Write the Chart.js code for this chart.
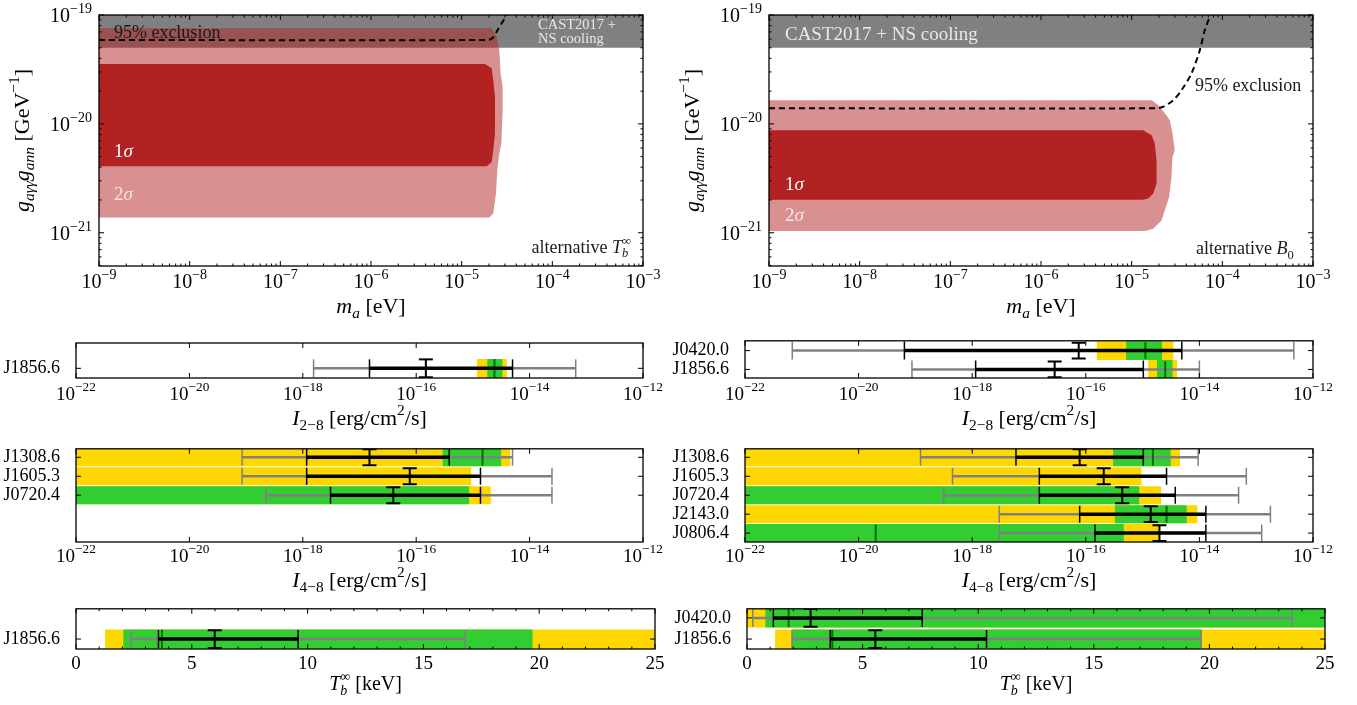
<!DOCTYPE html>
<html>
<head>
<meta charset="utf-8">
<title>Axion fit</title>
<script src="https://cdn.jsdelivr.net/npm/chart.js@4.4.1/dist/chart.umd.min.js"></script>
<style>
  body { margin: 0; background: #fff; }
  #wrap { position: relative; width: 1357px; height: 705px; overflow: hidden; }
  canvas { position: absolute; }
</style>
</head>
<body>
<div id="wrap">
  <canvas id="tbMass" width="670" height="322" style="left:0;top:0"></canvas>
  <canvas id="b0Mass" width="687" height="322" style="left:670px;top:0"></canvas>
  <canvas id="tbI28" width="670" height="108" style="left:0;top:322px"></canvas>
  <canvas id="b0I28" width="687" height="108" style="left:670px;top:322px"></canvas>
  <canvas id="tbI48" width="670" height="172" style="left:0;top:430px"></canvas>
  <canvas id="b0I48" width="687" height="172" style="left:670px;top:430px"></canvas>
  <canvas id="tbTemp" width="670" height="115" style="left:0;top:590px"></canvas>
  <canvas id="b0Temp" width="687" height="115" style="left:670px;top:590px"></canvas>
</div>
<script>
// axis ticks
const massTicks = [1e-9, 1e-8, 1e-7, 1e-6, 1e-5, 1e-4, 1e-3];
const couplingTicks = [1e-21, 1e-20, 1e-19];
const fluxTicks = [1e-22, 1e-20, 1e-18, 1e-16, 1e-14, 1e-12];
const tempTicks = [0, 5, 10, 15, 20, 25];

// top panels, [m_a (eV), g_agg*g_ann (GeV^-1)]
const castBand = [[1e-9, 5e-20], [1e-3, 5e-20], [1e-3, 1e-19], [1e-9, 1e-19]];

const tbSigma2 = [[1e-9, 7.55e-20], [2.14e-5, 7.55e-20], [2.43e-5, 6.31e-20], [2.60e-5, 4.76e-20], [2.69e-5, 2.91e-20],
  [2.83e-5, 2.19e-20], [2.83e-5, 1.34e-20], [2.74e-5, 6.6e-21], [2.60e-5, 5.35e-21], [2.47e-5, 3.75e-21],
  [2.39e-5, 2.29e-21], [2.23e-5, 1.5e-21], [2.02e-5, 1.38e-21], [1e-9, 1.38e-21]];
const tbSigma1 = [[1e-9, 3.54e-20], [1.81e-5, 3.54e-20], [2.14e-5, 3.24e-20], [2.23e-5, 2.52e-20], [2.33e-5, 1.77e-20],
  [2.33e-5, 8.17e-21], [2.23e-5, 5.73e-21], [2.14e-5, 4.47e-21], [1.89e-5, 4.08e-21], [1e-9, 4.08e-21]];
const tbExcl = [[1e-9, 5.9e-20], [1.97e-5, 5.9e-20], [2.23e-5, 6.24e-20], [2.43e-5, 7.03e-20], [3.14e-5, 1e-19]];

const b0Sigma2 = [[1e-9, 1.65e-20], [1.66e-5, 1.65e-20], [1.96e-5, 1.49e-20], [2.32e-5, 1.25e-20], [2.64e-5, 1.08e-20],
  [2.82e-5, 8.17e-21], [2.99e-5, 5.73e-21], [2.82e-5, 4.97e-21], [2.75e-5, 3.25e-21], [2.59e-5, 2.13e-21],
  [2.32e-5, 1.61e-21], [2.14e-5, 1.30e-21], [1.73e-5, 1.09e-21], [1.40e-5, 1.04e-21], [1e-9, 1.04e-21]];
const b0Sigma1 = [[1e-9, 8.75e-21], [1.34e-5, 8.75e-21], [1.66e-5, 7.87e-21], [1.80e-5, 6.6e-21], [1.88e-5, 4.63e-21],
  [1.88e-5, 2.83e-21], [1.73e-5, 2.29e-21], [1.52e-5, 2.06e-21], [1.34e-5, 2.01e-21], [1e-9, 2.01e-21]];
const b0Excl = [[1e-9, 1.39e-20], [1.88e-5, 1.39e-20], [2.2e-5, 1.43e-20], [2.88e-5, 1.65e-20], [3.55e-5, 2.04e-20],
  [4.57e-5, 2.91e-20], [5.65e-5, 4.76e-20], [6.41e-5, 7.28e-20], [7.41e-5, 1e-19]];

// I_2-8 panels
const i28TbNames = ['J1856.6'];
const i28TbSlots = [1];
const i28TbYellow = [[1.2e-15, 3.9e-15]];
const i28TbGreen = [[1.82e-15, 3.27e-15]];
const i28TbBest = [2.4e-15];
const i28TbGray = [[1.55e-18, 6.5e-14]];
const i28TbBlack = [[1.5e-17, 5.0e-15]];
const i28TbMeas = [1.48e-16];

const i28B0Names = ['J0420.0', 'J1856.6'];
const i28B0Slots = [0, 1];
const i28B0Yellow = [[1.58e-16, 3.44e-15], [1.27e-15, 3.98e-15]];
const i28B0Green = [[5.2e-16, 2.17e-15], [1.82e-15, 3.32e-15]];
const i28B0Best = [1.12e-15, 2.5e-15];
const i28B0Gray = [[6.8e-22, 4.6e-13], [8.7e-20, 1.0e-14]];
const i28B0Black = [[6.4e-20, 4.9e-15], [1.15e-18, 1.03e-15]];
const i28B0Meas = [7.5e-17, 2.83e-17];

// I_4-8 panels
const i48TbNames = ['J1308.6', 'J1605.3', 'J0720.4'];
const i48TbSlots = [0, 1, 2];
const i48TbYellow = [[1e-22, 4.5e-15], [1e-22, 9.2e-16], [1e-22, 2.04e-15]];
const i48TbGreen = [[2.98e-16, 3.1e-15], null, [1e-22, 8.45e-16]];
const i48TbBest = [1.48e-15, null, null];
const i48TbGray = [[8.5e-20, 5.0e-15], [8.5e-20, 2.48e-14], [2.23e-19, 2.48e-14]];
const i48TbBlack = [[1.17e-18, 3.83e-16], [1.17e-18, 1.36e-15], [3.08e-18, 1.36e-15]];
const i48TbMeas = [1.5e-17, 7.7e-17, 3.94e-17];

const i48B0Names = ['J1308.6', 'J1605.3', 'J0720.4', 'J2143.0', 'J0806.4'];
const i48B0Slots = [0, 1, 2, 3, 4];
const i48B0Yellow = [[1e-22, 4.5e-15], [1e-22, 9.4e-16], [1e-22, 2.09e-15], [1e-22, 9.1e-15], [1e-22, 1.98e-15]];
const i48B0Green = [[3.06e-16, 3.09e-15], null, [1e-22, 8.6e-16], [3.3e-16, 5.9e-15], [1e-22, 4.6e-16]];
const i48B0Best = [1.52e-15, null, null, 2.64e-15, 2.0e-20];
const i48B0Gray = [[1.23e-19, 9.5e-15], [4.5e-19, 6.7e-14], [3.15e-19, 4.9e-14], [3.0e-18, 1.78e-13], [3.0e-18, 1.25e-13]];
const i48B0Black = [[5.9e-18, 1.03e-15], [1.52e-17, 2.64e-15], [1.52e-17, 3.76e-15], [7.8e-17, 1.3e-14], [1.45e-16, 1.3e-14]];
const i48B0Meas = [7.8e-17, 2.07e-16, 4.38e-16, 1.39e-15, 1.98e-15];

// T_b panels (keV)
const tempTbNames = ['J1856.6'];
const tempTbSlots = [1];
const tempTbYellow = [[1.27, 25]];
const tempTbGreen = [[2.06, 19.7]];
const tempTbBest = [3.71];
const tempTbGray = [[2.38, 16.8]];
const tempTbBlack = [[3.56, 9.59]];
const tempTbMeas = [5.99];

const tempB0Names = ['J0420.0', 'J1856.6'];
const tempB0Slots = [0, 1];
const tempB0Yellow = [[0, 25], [1.23, 25]];
const tempB0Green = [[0.81, 25], [1.95, 19.64]];
const tempB0Best = [1.8, 3.69];
const tempB0Gray = [[0.25, 23.58], [1.95, 19.64]];
const tempB0Black = [[1.14, 7.58], [3.6, 10.36]];
const tempB0Meas = [2.75, 5.55];

const FAM = "'Liberation Serif', 'DejaVu Serif', serif";
Chart.defaults.font.family = FAM;
Chart.defaults.color = '#000';

// 10^n label as text parts
const powParts = v => [['10', ''], [String(Math.round(Math.log10(v))).replace('-', '−'), 'p']];
const numParts = v => [[String(v), '']];

function logMinor(lo, hi) {
  const out = [];
  for (let e = Math.floor(Math.log10(lo)); e < Math.log10(hi); e++) {
    for (let k = 2; k < 10; k++) {
      const v = k * Math.pow(10, e);
      if (v > lo && v < hi) out.push(v);
    }
  }
  return out;
}

// text with italic / sub / superscript parts: flags i, b (sub), p (sup), o (stack on previous)
function rich(ctx, parts, x, y, size, align, color) {
  const items = [];
  let cx = 0, prevStart = 0;
  parts.forEach(([t, f]) => {
    const small = f.includes('b') || f.includes('p');
    const font = (f.includes('i') ? 'italic ' : '') + (small ? size * 0.7 : size) + 'px ' + FAM;
    ctx.font = font;
    const w = ctx.measureText(t).width;
    let start = cx;
    if (f.includes('o')) { start = prevStart; cx = Math.max(cx, start + w); } else { cx += w; }
    items.push({ t, font, start, dy: f.includes('b') ? 0.24 * size : f.includes('p') ? -0.45 * size : 0 });
    prevStart = start;
  });
  const off = align === 'center' ? -cx / 2 : align === 'right' ? -cx : 0;
  ctx.fillStyle = color;
  ctx.textBaseline = 'alphabetic';
  ctx.textAlign = 'left';
  items.forEach(it => { ctx.font = it.font; ctx.fillText(it.t, x + off + it.start, y + it.dy); });
}

// box, inward ticks, tick labels, titles and notes
function frame(cfg) {
  return {
    id: 'frame',
    afterDatasetsDraw(chart) {
      const { ctx, chartArea: a, scales: { x, y } } = chart;
      ctx.save();
      ctx.beginPath();
      ctx.strokeStyle = '#000';
      ctx.lineWidth = 1;
      const xt = (vals, len) => vals.forEach(v => {
        const p = x.getPixelForValue(v);
        ctx.moveTo(p, a.bottom); ctx.lineTo(p, a.bottom - len);
        ctx.moveTo(p, a.top); ctx.lineTo(p, a.top + len);
      });
      const yt = (vals, len) => vals.forEach(v => {
        const p = y.getPixelForValue(v);
        ctx.moveTo(a.left, p); ctx.lineTo(a.left + len, p);
        ctx.moveTo(a.right, p); ctx.lineTo(a.right - len, p);
      });
      xt(cfg.xMajor, 5); xt(cfg.xMinor || [], 2.5);
      yt(cfg.yMajor, 5); yt(cfg.yMinor || [], 2.5);
      ctx.stroke();
      ctx.lineWidth = 1.3;
      ctx.strokeRect(a.left, a.top, a.right - a.left, a.bottom - a.top);
      (cfg.notes || []).forEach(n => rich(ctx, n.parts, x.getPixelForValue(n.x), y.getPixelForValue(n.y), n.size, n.align || 'left', n.color));
      x.ticks.forEach(t => rich(ctx, cfg.xLabel(t.value), x.getPixelForValue(t.value), a.bottom + cfg.xLabelDy, cfg.labelSize, 'center', '#000'));
      if (cfg.yLabel) {
        y.ticks.forEach(t => rich(ctx, cfg.yLabel(t.value), a.left - 7, y.getPixelForValue(t.value) + 0.36 * cfg.labelSize, cfg.labelSize, 'right', '#000'));
      }
      rich(ctx, cfg.xTitle, (a.left + a.right) / 2, a.bottom + cfg.xTitleDy, cfg.titleSize, 'center', '#000');
      if (cfg.yTitle) {
        ctx.translate(cfg.yTitleX, (a.top + a.bottom) / 2);
        ctx.rotate(-Math.PI / 2);
        rich(ctx, cfg.yTitle, 0, 0, cfg.titleSize, 'center', '#000');
      }
      ctx.restore();
    }
  };
}

function axis(type, min, max, ticks, fit) {
  return {
    type, min, max, beginAtZero: false,
    afterBuildTicks: s => { s.ticks = ticks.map(value => ({ value })); },
    afterFit: fit,
    grid: { display: false }, border: { display: false },
    ticks: { display: false }
  };
}

const pts = arr => arr.map(([x, y]) => ({ x, y }));

function massChart(id, sigma2, sigma1, excl, notes, right) {
  const poly = (p, color, order) => ({ data: pts(p), fill: 'shape', backgroundColor: color, borderWidth: 0, pointRadius: 0, order, clip: 0 });
  new Chart(document.getElementById(id), {
    type: 'line',
    data: {
      datasets: [
        poly(castBand, '#808080', 4),
        poly(sigma2, 'rgba(178,34,34,0.5)', 3),
        poly(sigma1, '#b22222', 2),
        { data: pts(excl), borderColor: '#000', borderWidth: 2, borderDash: [6, 4], pointRadius: 0, tension: 0.3, fill: false, order: 1 }
      ]
    },
    options: {
      responsive: false, animation: false, events: [], devicePixelRatio: 1,
      layout: { padding: { left: 0, top: 15, right, bottom: 0 } },
      plugins: { legend: { display: false }, tooltip: { enabled: false } },
      scales: {
        x: axis('logarithmic', 1e-9, 1e-3, massTicks, s => { s.height = 56; }),
        y: axis('logarithmic', 4.95e-22, 1e-19, couplingTicks, s => { s.width = 99; })
      }
    },
    plugins: [frame({
      xMajor: massTicks, xMinor: logMinor(1e-9, 1e-3),
      yMajor: couplingTicks, yMinor: logMinor(4.95e-22, 1e-19),
      xLabel: powParts, yLabel: powParts, xLabelDy: 22, labelSize: 20,
      notes,
      xTitle: [['m', 'i'], ['a', 'ib'], [' [eV]', '']], xTitleDy: 47, titleSize: 22,
      yTitle: [['g', 'i'], ['aγγ', 'ib'], ['g', 'i'], ['ann', 'ib'], [' [GeV', ''], ['−1', 'p'], [']', '']], yTitleX: 29
    })]
  });
}

function seg(p, color, width, order, extra) {
  return Object.assign({ type: 'line', data: pts(p), borderColor: color, borderWidth: width, pointRadius: 0, fill: false, order }, extra || {});
}

function rowChart(id, s) {
  const ds = [];
  const bars = (ranges, color, order) => ({
    type: 'bar',
    data: s.slots.map((p, i) => ranges[i] && { y: p, x: ranges[i] }).filter(Boolean),
    backgroundColor: color, grouped: false, barThickness: s.bar, order, clip: 0
  });
  ds.push(bars(s.yellow, '#ffd700', 9), bars(s.green, '#32cd32', 8));
  s.slots.forEach((p, i) => {
    if (s.best[i] != null) ds.push(seg([[s.best[i], p - 0.44], [s.best[i], p + 0.44]], 'rgba(0,100,0,0.9)', 2, 5));
    const tickOpts = c => ({ pointStyle: 'line', pointRadius: s.tick, pointRotation: 90, pointBorderColor: c, pointBorderWidth: 1.5 });
    ds.push(seg([[s.gray[i][0], p], [s.gray[i][1], p]], '#808080', 2.5, 6, tickOpts('#808080')));
    ds.push(seg([[s.black[i][0], p], [s.black[i][1], p]], '#000', 3.5, 4, tickOpts('#000')));
    ds.push(seg([[s.meas[i], p - 0.42], [s.meas[i], p + 0.42]], '#000', 2, 1,
      { pointStyle: 'line', pointRadius: 7, pointRotation: 0, pointBorderColor: '#000', pointBorderWidth: 2 }));
  });
  const fitX = sc => { sc.height = s.xH; };
  new Chart(document.getElementById(id), {
    type: 'bar',
    data: { datasets: ds },
    options: {
      indexAxis: 'y', responsive: false, animation: false, events: [], devicePixelRatio: 1,
      layout: { padding: { left: 0, top: s.top, right: s.right, bottom: 0 } },
      plugins: { legend: { display: false }, tooltip: { enabled: false } },
      scales: {
        x: s.log ? axis('logarithmic', 1e-22, 1e-12, fluxTicks, fitX) : axis('linear', 0, 25, tempTicks, fitX),
        y: {
          type: 'linear', reverse: true, min: s.ymin, max: s.ymax, offset: false,
          afterBuildTicks: sc => { sc.ticks = s.slots.map(value => ({ value })); },
          afterFit: sc => { sc.width = s.yW; },
          grid: { display: false }, border: { display: false },
          ticks: { callback: (v, i) => s.names[i], font: { size: 18 }, padding: 8, autoSkip: false }
        }
      }
    },
    plugins: [frame({
      xMajor: s.log ? fluxTicks : tempTicks,
      xMinor: s.log ? [] : Array.from({ length: 25 }, (_, k) => k).filter(k => k % 5 !== 0),
      yMajor: s.slots,
      xLabel: s.log ? powParts : numParts, xLabelDy: s.labelDy, labelSize: 19,
      xTitle: s.title, xTitleDy: s.titleDy, titleSize: s.titleSize
    })]
  });
}

const sigmaNote = (n, x, y) => ({ x, y, parts: [[n, ''], ['σ', 'i']], size: 19, color: n === '1' ? '#fff' : '#f6e6e6' });

massChart('tbMass', tbSigma2, tbSigma1, tbExcl, [
  { x: 1.46e-9, y: 6.18e-20, parts: [['95% exclusion', '']], size: 18, color: '#1a1a1a' },
  { x: 6.95e-5, y: 7.43e-20, parts: [['CAST2017 +', '']], size: 14.5, color: '#e8e8e8' },
  { x: 6.95e-5, y: 5.52e-20, parts: [['NS cooling', '']], size: 14.5, color: '#e8e8e8' },
  sigmaNote('1', 1.46e-9, 4.99e-21),
  sigmaNote('2', 1.46e-9, 1.99e-21),
  { x: 7.36e-4, y: 6.53e-22, parts: [['alternative ', ''], ['T', 'i'], ['b', 'ib'], ['∞', 'po']], size: 18, color: '#1a1a1a', align: 'right' }
], 27);

massChart('b0Mass', b0Sigma2, b0Sigma1, b0Excl, [
  { x: 1.5e-9, y: 5.89e-20, parts: [['CAST2017 + NS cooling', '']], size: 19, color: '#e8e8e8' },
  { x: 4.98e-5, y: 2.01e-20, parts: [['95% exclusion', '']], size: 18, color: '#1a1a1a' },
  sigmaNote('1', 1.5e-9, 2.45e-21),
  sigmaNote('2', 1.5e-9, 1.27e-21),
  { x: 6.14e-4, y: 6.32e-22, parts: [['alternative ', ''], ['B', 'i'], ['0', 'b']], size: 18, color: '#1a1a1a', align: 'right' }
], 44);

const iTitle = band => [['I', 'i'], [band, 'b'], [' [erg/cm', ''], ['2', 'p'], ['/s]', '']];
const tTitle = [['T', 'i'], ['b', 'ib'], ['∞', 'po'], [' [keV]', '']];

rowChart('tbI28', { names: i28TbNames, slots: i28TbSlots, yellow: i28TbYellow, green: i28TbGreen, best: i28TbBest,
  gray: i28TbGray, black: i28TbBlack, meas: i28TbMeas, log: true, ymin: -0.19, ymax: 1.455,
  top: 21, right: 27, yW: 76, xH: 52, bar: 18, tick: 9, labelDy: 22, title: iTitle('2−8'), titleDy: 47, titleSize: 22 });
rowChart('b0I28', { names: i28B0Names, slots: i28B0Slots, yellow: i28B0Yellow, green: i28B0Green, best: i28B0Best,
  gray: i28B0Gray, black: i28B0Black, meas: i28B0Meas, log: true, ymin: -0.52, ymax: 1.455,
  top: 14, right: 44, yW: 75, xH: 52, bar: 18, tick: 9, labelDy: 22, title: iTitle('2−8'), titleDy: 47, titleSize: 22 });
rowChart('tbI48', { names: i48TbNames, slots: i48TbSlots, yellow: i48TbYellow, green: i48TbGreen, best: i48TbBest,
  gray: i48TbGray, black: i48TbBlack, meas: i48TbMeas, log: true, ymin: -0.45, ymax: 4.47,
  top: 13, right: 27, yW: 76, xH: 60, bar: 17.3, tick: 8.5, labelDy: 20, title: iTitle('4−8'), titleDy: 45, titleSize: 22 });
rowChart('b0I48', { names: i48B0Names, slots: i48B0Slots, yellow: i48B0Yellow, green: i48B0Green, best: i48B0Best,
  gray: i48B0Gray, black: i48B0Black, meas: i48B0Meas, log: true, ymin: -0.45, ymax: 4.47,
  top: 13, right: 44, yW: 75, xH: 60, bar: 17.3, tick: 8.5, labelDy: 20, title: iTitle('4−8'), titleDy: 45, titleSize: 22 });
rowChart('tbTemp', { names: tempTbNames, slots: tempTbSlots, yellow: tempTbYellow, green: tempTbGreen, best: tempTbBest,
  gray: tempTbGray, black: tempTbBlack, meas: tempTbMeas, log: false, ymin: -0.43, ymax: 1.47,
  top: 18, right: 15, yW: 76, xH: 56, bar: 18.7, tick: 9, labelDy: 20, title: tTitle, titleDy: 41, titleSize: 20 });
rowChart('b0Temp', { names: tempB0Names, slots: tempB0Slots, yellow: tempB0Yellow, green: tempB0Green, best: tempB0Best,
  gray: tempB0Gray, black: tempB0Black, meas: tempB0Meas, log: false, ymin: -0.43, ymax: 1.47,
  top: 18, right: 32, yW: 77, xH: 56, bar: 18.7, tick: 9, labelDy: 20, title: tTitle, titleDy: 41, titleSize: 20 });
</script>
</body>
</html>
